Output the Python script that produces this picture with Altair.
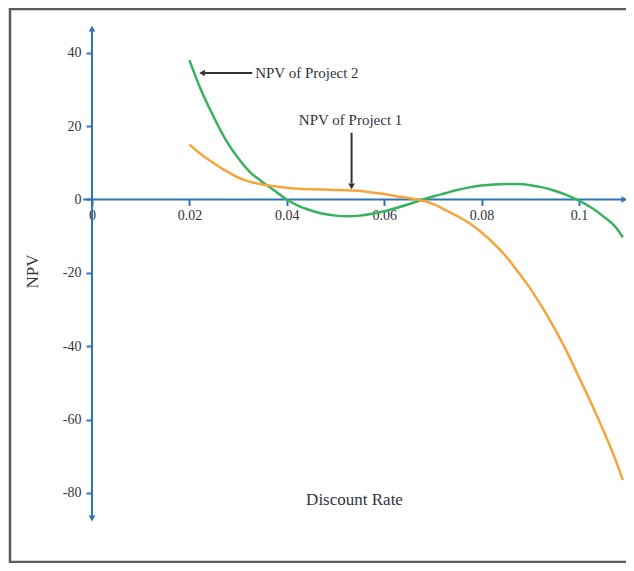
import altair as alt
import pandas as pd

# ---------------- data ----------------
rate_p2 = [0.020, 0.0225, 0.025, 0.0275, 0.030, 0.0325, 0.035, 0.0375, 0.040, 0.0425,
           0.045, 0.0475, 0.050, 0.0525, 0.055, 0.0575, 0.060, 0.0625, 0.065, 0.0675,
           0.070, 0.0725, 0.075, 0.0775, 0.080, 0.0825, 0.085, 0.0875, 0.090, 0.0925,
           0.095, 0.0975, 0.100, 0.1025, 0.105, 0.1075, 0.109]
npv_p2 = [38.0, 29.5, 22.5, 16.2, 11.3, 7.4, 4.8, 2.4, 0.0, -1.8,
          -3.0, -3.9, -4.4, -4.6, -4.4, -3.9, -3.2, -2.3, -1.3, -0.2,
          0.8, 1.7, 2.6, 3.3, 3.8, 4.1, 4.2, 4.2, 3.9, 3.3,
          2.4, 1.2, -0.3, -2.2, -4.6, -7.5, -10.3]

rate_p1 = [0.020, 0.0225, 0.025, 0.0275, 0.030, 0.0325, 0.035, 0.0375, 0.040, 0.0425,
           0.045, 0.0475, 0.050, 0.0525, 0.055, 0.0575, 0.060, 0.0625, 0.065, 0.0675,
           0.070, 0.0725, 0.075, 0.0775, 0.080, 0.0825, 0.085, 0.0875, 0.090, 0.0925,
           0.095, 0.0975, 0.100, 0.1025, 0.105, 0.1075, 0.109]
npv_p1 = [15.0, 12.2, 9.9, 7.8, 6.0, 4.8, 4.1, 3.6, 3.2, 2.9,
          2.8, 2.7, 2.6, 2.5, 2.3, 1.9, 1.5, 0.9, 0.4, -0.2,
          -1.2, -2.8, -4.5, -6.5, -9.0, -12.0, -15.5, -19.8, -24.3, -29.5,
          -35.2, -41.5, -48.5, -55.5, -63.0, -71.0, -76.5]

series_names = ["NPV of Project 1", "NPV of Project 2"]
series_colors = ["#f5a53c", "#36b35e"]

x_ticks = [0, 0.02, 0.04, 0.06, 0.08, 0.1]
y_ticks = [40, 20, 0, -20, -40, -60, -80]

x_title = "Discount Rate"
y_title = "NPV"

# annotation anchors (data units)
ann_text = ["NPV of Project 2", "NPV of Project 1"]
ann_x = [0.0335, 0.0531]
ann_y = [34.5, 21.7]

# ---------------- layout ----------------
W, H = 616, 555
X_DOMAIN = [-0.016838, 0.109651]
Y_DOMAIN = [-99.13, 52.22]
AXIS_BLUE = "#2e75b6"
TEXT = "#333340"
FONT = "Liberation Serif"

xs = alt.Scale(domain=X_DOMAIN, nice=False, zero=False)
ys = alt.Scale(domain=Y_DOMAIN, nice=False, zero=False)

x_zero_px = (Y_DOMAIN[1] - 0) / (Y_DOMAIN[1] - Y_DOMAIN[0]) * H   # y pixel of npv = 0
y_zero_px = (0 - X_DOMAIN[0]) / (X_DOMAIN[1] - X_DOMAIN[0]) * W   # x pixel of rate = 0
x_off = -(H - x_zero_px)
y_off = -y_zero_px

X_AXIS = alt.Axis(
    values=x_ticks, format="~g", orient="bottom", offset=x_off, domain=False, grid=False,
    tickColor=AXIS_BLUE, tickWidth=2, tickSize=6, labelPadding=3,
    labelFont=FONT, labelFontSize=14, labelColor=TEXT, labelOverlap=False,
    labelFlush=False, labelBound=False,
    title=x_title, titleFont=FONT, titleFontSize=17, titleFontWeight="normal",
    titleColor=TEXT, titleX=344, titleY=300,
    titleAlign="center", titleBaseline="middle")
Y_AXIS = alt.Axis(
    values=y_ticks, labelExpr="'' + datum.value", orient="left", offset=y_off, domain=False, grid=False,
    tickColor=AXIS_BLUE, tickWidth=2, tickSize=6, labelPadding=5,
    labelFont=FONT, labelFontSize=14, labelColor=TEXT, labelOverlap=False,
    labelFlush=False, labelBound=False,
    title=y_title, titleFont=FONT, titleFontSize=17, titleFontWeight="normal",
    titleColor=TEXT, titleX=-60, titleY=263, titleAngle=270,
    titleAlign="center", titleBaseline="middle")


def X(field="rate"):
    return alt.X(f"{field}:Q", scale=xs, axis=X_AXIS, title=x_title)


def Y(field="npv"):
    return alt.Y(f"{field}:Q", scale=ys, axis=Y_AXIS, title=y_title)


curves = pd.DataFrame(
    [{"rate": r, "npv": v, "series": series_names[1], "ord": i} for i, (r, v) in enumerate(zip(rate_p2, npv_p2))]
    + [{"rate": r, "npv": v, "series": series_names[0], "ord": i} for i, (r, v) in enumerate(zip(rate_p1, npv_p1))]
)

line_layer = alt.Chart(curves).mark_line(strokeWidth=2.5, interpolate="monotone").encode(
    x=X(), y=Y(),
    color=alt.Color("series:N", scale=alt.Scale(domain=series_names, range=series_colors), legend=None),
    detail="series:N",
    order="ord:Q",
)

# axis lines through the origin
axis_lines = pd.DataFrame({
    "rate": [-0.0018, 0.0], "rate2": [0.1092, 0.0],
    "npv": [0.0, 46.0], "npv2": [0.0, -86.4],
})
axis_rules = alt.Chart(axis_lines).mark_rule(color=AXIS_BLUE, strokeWidth=2).encode(
    x=X(), x2="rate2:Q", y=Y(), y2="npv2:Q",
)
axis_heads = pd.DataFrame({
    "rate": [0.1093, 0.0, 0.0], "npv": [0.0, 46.6, -87.0],
    "shape": ["triangle-right", "triangle-up", "triangle-down"],
})
axis_arrows = alt.Chart(axis_heads).mark_point(filled=True, opacity=1, color=AXIS_BLUE, size=45).encode(
    x=X(), y=Y(), shape=alt.Shape("shape:N", scale=None),
)

# annotation arrows
ann_lines = pd.DataFrame({
    "rate": [0.0329, 0.0533], "rate2": [0.0232, 0.0533],
    "npv": [34.5, 18.2], "npv2": [34.5, 4.4],
})
ann_rules = alt.Chart(ann_lines).mark_rule(color="#333333", strokeWidth=2).encode(
    x=X(), x2="rate2:Q", y=Y(), y2="npv2:Q",
)
ann_heads = pd.DataFrame({
    "rate": [0.0226, 0.0533], "npv": [34.5, 3.6],
    "shape": ["triangle-left", "triangle-down"],
})
ann_arrows = alt.Chart(ann_heads).mark_point(filled=True, opacity=1, color="#333333", size=45).encode(
    x=X(), y=Y(), shape=alt.Shape("shape:N", scale=None),
)

ann_left = alt.Chart(pd.DataFrame({"text": ann_text[:1], "rate": ann_x[:1], "npv": ann_y[:1]})).mark_text(
    font=FONT, fontSize=15, color=TEXT, align="left", baseline="middle").encode(
    x=X(), y=Y(), text="text:N")
ann_center = alt.Chart(pd.DataFrame({"text": ann_text[1:], "rate": ann_x[1:], "npv": ann_y[1:]})).mark_text(
    font=FONT, fontSize=15, color=TEXT, align="center", baseline="middle").encode(
    x=X(), y=Y(), text="text:N")

# picture frame (left, top, bottom)
frame_left = alt.Chart().mark_rule(color="#5c5c5c", strokeWidth=2.5).encode(
    x=alt.value(0), y=alt.value(0), y2=alt.value(H))
frame_top = alt.Chart().mark_rule(color="#5c5c5c", strokeWidth=2.5).encode(
    x=alt.value(0), x2=alt.value(W), y=alt.value(1))
frame_bottom = alt.Chart().mark_rule(color="#5c5c5c", strokeWidth=2.5).encode(
    x=alt.value(0), x2=alt.value(W), y=alt.value(H - 1))

chart = alt.layer(
    axis_rules, axis_arrows, line_layer, ann_rules, ann_arrows, ann_left, ann_center,
    frame_left, frame_top, frame_bottom,
).properties(
    width=W, height=H,
    autosize=alt.AutoSizeParams(type="none"),
    padding={"left": 2, "top": 0, "right": 0, "bottom": 0},
).configure_view(stroke=None).configure(background="white")

chart.save("out.html", embed_options={"renderer": "svg", "actions": False})
